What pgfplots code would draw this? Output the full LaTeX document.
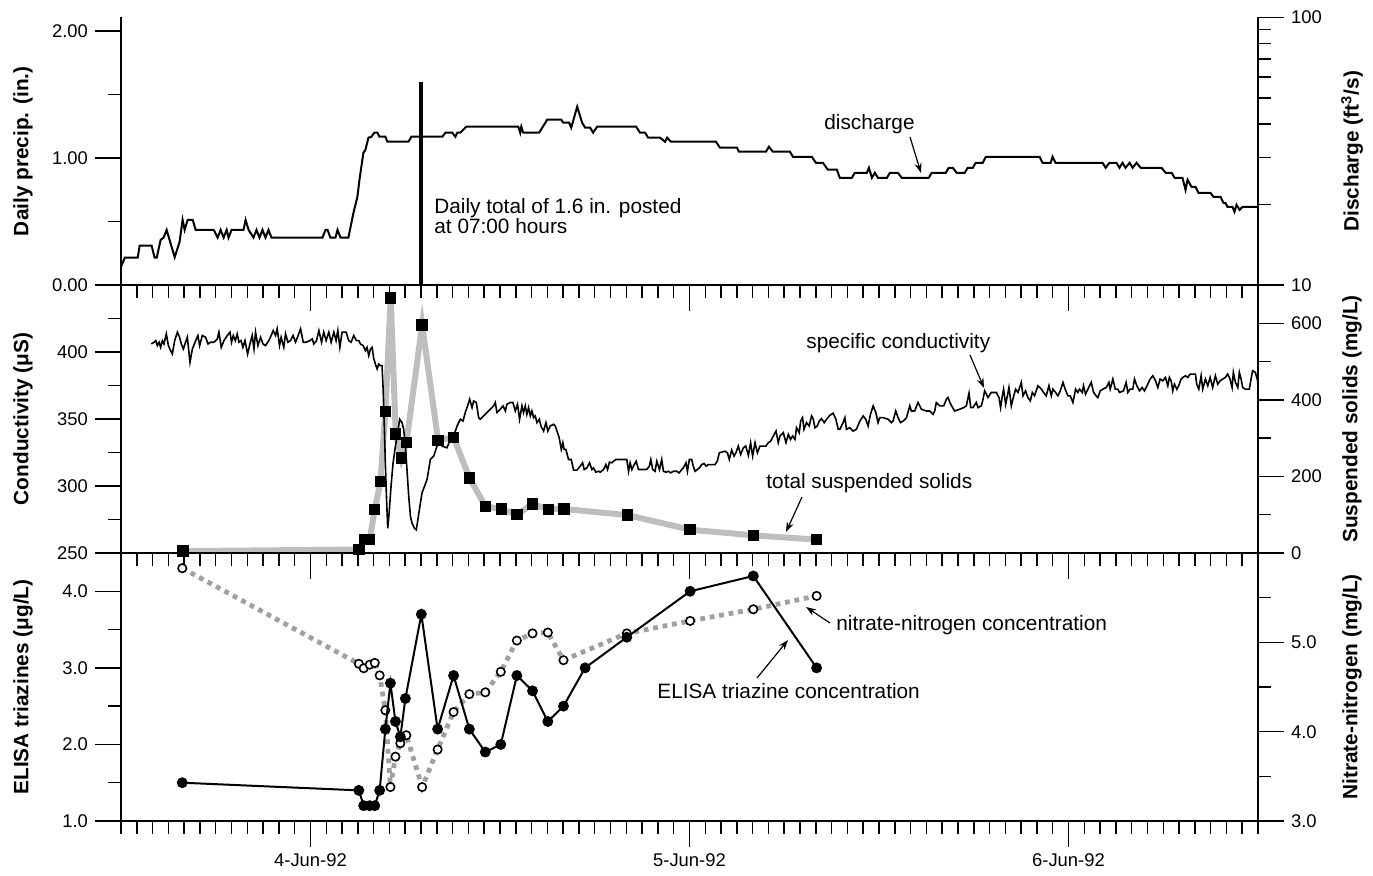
\documentclass[border=0pt]{standalone}
\usepackage{pgfplots}
\pgfplotsset{compat=1.18}
\usepackage{fontspec}
\setmainfont{Liberation Sans}
\usetikzlibrary{arrows.meta}
\definecolor{tssgray}{RGB}{190,190,190}
\definecolor{no3gray}{RGB}{160,160,160}
\pgfplotsset{
  panel/.style={
    scale only axis, width=568.5pt, xmin=12, xmax=84, clip=false,
    axis line style={line width=0.75pt, black},
    tick style={line width=0.75pt, black},
    major tick length=13pt, minor tick length=6.5pt,
    tick align=outside,
    /pgf/number format/assume math mode=true,
    tick label style={font=\fontsize{9.2}{11}\selectfont},
    label style={font=\bfseries\fontsize{10.4}{12}\selectfont},
  },
  leftpanel/.style={panel, axis x line*=bottom, axis y line*=left,
    xtick={24,48,72}, minor xtick={12,13,...,84},
    ylabel style={at={(axis description cs:-0.0862,0.5)}, anchor=center},
  },
  rightpanel/.style={panel, axis x line=none, axis y line*=right,
    ylabel style={at={(axis description cs:1.0827,0.5)}, anchor=center},
  },
}
\newcommand{\annfont}{\fontsize{10.4}{12}\selectfont}
\begin{document}
\begin{tikzpicture}
\useasboundingbox (-60.5pt,-27pt) rectangle (626pt,410.5pt);

% ---------------- Panel 1 : precipitation / discharge ----------------
\begin{axis}[rightpanel, at={(0,268pt)}, anchor=south west, height=133.75pt,
  ymode=log, ymin=10, ymax=100, ytick={10,100}, yticklabels={10,100},
  minor ytick={20,30,40,50,60,70,80,90},
  ylabel={Discharge (ft\textsuperscript{3}/s)}]
\addplot[black, line width=1pt] coordinates {
(12.0,11.68) (12.24,12.65) (13.06,12.65) (13.18,14.03) (13.94,14.03) (14.13,12.65) (14.26,12.65)
(14.51,14.74) (14.70,15.04) (14.89,16.07) (15.40,12.7) (15.71,14.5) (15.90,17.52) (16.03,16.07)
(16.22,17.52) (16.54,17.52) (16.73,16.07) (17.87,16.07) (18.12,15.04) (18.31,16.07) (18.50,15.04)
(18.69,16.07) (18.81,15.04) (19.00,16.07) (19.76,16.07) (19.89,17.52) (20.08,16.07) (20.39,15.04)
(20.58,16.07) (20.77,15.04) (20.96,16.07) (21.15,15.04) (21.34,16.07) (21.53,15.04) (24.76,15.04)
(24.95,16.07) (25.08,16.07) (25.26,15.04) (25.58,15.04) (25.71,16.07) (25.90,15.04) (26.40,15.04)
(26.72,18.61) (26.97,21.36) (27.10,24.73) (27.35,31.22) (27.48,32.03) (27.67,35.53) (27.86,35.84)
(28.04,37.10) (28.24,37.10) (28.36,35.84) (28.74,35.84) (28.87,34.32) (30.20,34.32) (30.39,35.84)
(32.35,35.84) (32.54,37.10) (32.98,37.10) (33.17,35.84) (33.30,37.10) (33.49,37.10) (33.87,39.07)
(37.16,39.07) (37.28,37.10) (37.35,39.07) (37.47,37.10) (38.48,37.10) (38.99,41.50) (39.88,41.50)
(40.00,40.44) (40.38,40.44) (40.51,38.73) (40.89,46.42) (41.20,40.44) (41.39,38.73) (41.71,38.73)
(41.90,37.10) (42.15,39.07) (44.62,39.07) (44.87,37.10) (45.19,37.10) (45.38,35.53) (46.14,35.53)
(46.45,34.32) (46.58,35.53) (46.83,34.32) (49.68,34.32) (49.93,32.6) (51.01,32.6) (51.13,31.49)
(52.84,31.49) (53.03,32.88) (53.28,31.49) (54.36,31.49) (54.55,30.16) (55.75,30.16) (56.00,28.63)
(56.45,28.63) (56.76,26.97) (57.33,26.97) (57.52,25.16) (58.28,25.16) (58.47,26.28) (59.23,26.28)
(59.36,27.43) (59.55,25.16) (59.74,26.28) (59.93,25.16) (60.50,25.16) (60.69,26.28) (61.19,26.28)
(61.44,25.16) (63.15,25.16) (63.34,26.28) (64.23,26.28) (64.42,27.43) (64.67,27.43) (64.92,26.28)
(65.43,26.28) (65.62,27.43) (65.94,27.43) (66.12,28.63) (66.57,28.63) (66.76,30.16) (70.17,30.16)
(70.36,28.63) (70.87,28.63) (70.99,30.16) (71.18,28.63) (74.16,28.63) (74.35,27.43) (74.60,28.63)
(75.04,28.63) (75.23,27.43) (75.42,28.63) (75.61,27.43) (75.87,28.63) (76.06,27.43) (76.31,28.63)
(76.57,27.43) (77.89,27.43) (78.15,26.28) (78.53,26.28) (78.72,25.16) (79.22,25.16) (79.41,22.69)
(79.54,24.73) (79.79,23.28) (80.04,23.28) (80.23,22.11) (80.99,22.11) (81.18,21.36) (81.63,21.36)
(81.81,20.29) (81.94,20.29) (82.07,19.60) (82.38,19.60) (82.51,18.77) (82.64,19.94) (82.83,19.10)
(83.02,19.60) (84.0,19.60)
};
\end{axis}
\begin{axis}[leftpanel, at={(0,268pt)}, anchor=south west, height=133.75pt,
  ymin=0, ymax=2.106, ytick={0,1,2}, minor ytick={0.5,1.5},
  yticklabel style={/pgf/number format/.cd, fixed, fixed zerofill, precision=2},
  xticklabels={,,},
  ylabel={Daily precip. (in.)}]
\addplot[black, line width=2pt] coordinates {(31,0) (31,1.6)};
\end{axis}

% ---------------- Panel 2 : conductivity / suspended solids ----------------
\begin{axis}[rightpanel, at={(0,134pt)}, anchor=south west, height=134pt,
  ymin=0, ymax=700, ytick={0,200,400,600}, minor ytick={100,300,500},
  ylabel={Suspended solids (mg/L)}]
\addplot[tssgray, line width=3pt, mark=square*, mark size=2.6pt,
  mark options={black, fill=black, line width=0.5pt}] coordinates {
(15.92,5) (27.06,9) (27.43,35) (27.75,35) (28.07,114) (28.43,186) (28.74,370) (29.08,666)
(29.40,311) (29.76,248) (30.07,288) (31.07,596) (32.08,294) (33.06,302) (34.07,196) (35.07,122)
(36.08,115) (37.07,100) (38.06,128) (39.07,114) (40.06,115) (44.07,99) (48.04,61) (52.04,46) (56.05,35)
};
\end{axis}
\begin{axis}[leftpanel, at={(0,134pt)}, anchor=south west, height=134pt,
  ymin=250, ymax=450, ytick={250,300,350,400}, minor ytick={275,325,375,425},
  xticklabels={,,},
  ylabel={Conductivity (μS)}]
\addplot[black, line width=0.8pt] coordinates {
(13.92,406.0) (14.09,407.3) (14.20,408.5) (14.30,404.8) (14.41,407.3) (14.51,403.5) (14.62,408.5)
(14.72,406.0) (14.87,413.5) (15.00,404.8) (15.14,401.0) (15.25,398.5) (15.40,408.5) (15.57,414.8)
(15.71,411.0) (15.82,406.0) (15.95,402.3) (16.09,407.3) (16.20,411.0) (16.37,392.3) (16.52,402.3)
(16.73,408.5) (16.87,412.3) (16.98,404.8) (17.15,412.3) (17.36,411.0) (17.51,406.0) (17.67,407.3)
(17.89,407.3) (18.10,409.8) (18.20,414.8) (18.35,403.5) (18.52,408.5) (18.73,412.3) (18.90,414.8)
(19.00,407.3) (19.11,412.3) (19.24,408.5) (19.36,413.5) (19.47,407.3) (19.61,408.5) (19.72,403.5)
(19.85,408.5) (20.02,398.5) (20.14,404.8) (20.31,412.3) (20.42,402.3) (20.52,414.8) (20.67,404.8)
(20.84,411.0) (20.99,406.0) (21.15,404.8) (21.36,408.5) (21.51,412.3) (21.64,416.0) (21.79,412.3)
(21.89,417.3) (22.04,404.8) (22.14,411.0) (22.31,403.5) (22.42,413.5) (22.57,407.3) (22.73,408.5)
(22.90,412.3) (23.05,407.3) (23.22,412.3) (23.37,417.3) (23.54,407.3) (23.73,407.3) (23.96,408.5)
(24.11,409.8) (24.21,406.0) (24.38,408.5) (24.53,416.0) (24.70,407.3) (24.84,414.8) (24.99,408.5)
(25.16,414.8) (25.31,407.3) (25.48,414.8) (25.62,408.5) (25.73,416.0) (25.86,403.5) (26.00,414.8)
(26.26,414.8) (26.42,408.5) (26.57,407.3) (26.74,412.3) (26.91,408.5) (27.06,408.5) (27.16,406.0)
(27.33,404.8) (27.48,401.0) (27.58,403.5) (27.69,397.3) (27.80,402.3) (27.90,403.5) (28.01,394.8)
(28.11,391.0) (28.22,387.3) (28.32,391.0) (28.43,389.8) (28.53,389.8) (28.60,372.3) (28.68,342.3)
(28.74,317.3) (28.81,292.3) (28.89,268.5) (28.98,279.8) (29.10,299.8) (29.23,317.3) (29.38,329.8)
(29.52,339.8) (29.65,349.8) (29.80,347.3) (29.90,342.3) (30.01,329.8) (30.11,312.3) (30.22,292.3)
(30.33,277.3) (30.43,272.3) (30.58,268.5) (30.70,267.3) (31.06,294.8) (31.38,304.8) (31.59,319.8)
(31.80,322.3) (32.01,329.8) (32.12,333.5) (32.33,329.8) (32.64,328.5) (32.86,334.8) (33.07,337.3)
(33.28,344.8) (33.49,349.8) (33.66,348.5) (33.80,354.8) (33.95,359.8) (34.08,364.8) (34.23,358.5)
(34.33,363.5) (34.50,362.3) (34.65,351.0) (34.75,349.8) (34.96,352.3) (35.17,354.8) (35.39,357.3)
(35.60,359.8) (35.70,362.3) (35.81,354.8) (36.02,357.3) (36.19,359.8) (36.34,356.0) (36.44,361.0)
(36.65,362.3) (36.82,362.3) (36.97,356.0) (37.11,361.0) (37.24,349.8) (37.39,359.8) (37.49,354.8)
(37.60,359.8) (37.70,353.5) (37.81,358.5) (37.92,352.3) (38.02,356.0) (38.13,351.0) (38.23,352.3)
(38.34,347.3) (38.49,349.8) (38.59,344.8) (38.76,341.0) (38.91,347.3) (39.03,341.0) (39.18,344.8)
(39.39,346.0) (39.50,344.8) (39.64,339.8) (39.75,336.0) (39.88,327.3) (39.98,332.3) (40.06,327.3)
(40.17,327.3) (40.34,319.8) (40.51,319.8) (40.66,311.8) (40.87,311.8) (41.08,314.8) (41.23,317.3)
(41.33,312.3) (41.50,313.5) (41.67,317.3) (41.82,312.3) (41.92,313.5) (42.07,310.3) (42.24,311.0)
(42.35,310.3) (42.56,312.3) (42.70,316.0) (42.81,312.3) (42.93,317.8) (43.08,317.3) (43.19,318.5)
(43.34,319.8) (44.03,319.8) (44.14,311.0) (44.24,317.3) (44.35,312.3) (44.45,314.8) (44.62,318.5)
(44.77,312.3) (45.08,312.3) (45.29,312.3) (45.46,314.8) (45.55,319.8) (45.67,312.3) (45.82,311.0)
(45.93,318.5) (46.10,312.3) (46.24,319.8) (46.35,311.0) (46.52,310.3) (46.67,311.0) (46.81,309.8)
(46.98,311.0) (47.19,311.0) (47.34,309.8) (47.51,312.3) (47.61,313.5) (47.78,317.3) (47.87,311.0)
(47.99,319.8) (48.14,319.8) (48.24,314.8) (48.35,311.0) (48.50,312.3) (48.63,313.5) (48.77,316.0)
(48.92,316.8) (49.05,314.8) (49.19,316.0) (49.40,316.0) (49.62,316.0) (49.76,318.5) (49.89,324.8)
(50.04,325.3) (50.25,326.0) (50.40,324.8) (50.52,319.8) (50.67,326.8) (50.82,322.3) (50.94,324.8)
(51.09,329.8) (51.24,323.5) (51.41,328.5) (51.56,329.8) (51.73,322.8) (51.87,332.3) (52.00,322.3)
(52.15,332.3) (52.30,324.8) (52.46,329.8) (52.84,329.8) (52.99,332.3) (53.14,333.5) (53.31,337.3)
(53.48,341.0) (53.62,332.3) (53.73,337.3) (53.94,339.8) (54.11,332.3) (54.26,338.5) (54.40,334.8)
(54.53,337.3) (54.68,334.8) (54.78,343.5) (54.95,339.8) (55.04,348.5) (55.16,351.0) (55.25,342.3)
(55.41,347.3) (55.58,344.8) (55.73,352.3) (55.84,349.8) (55.94,343.5) (56.09,344.8) (56.22,348.5)
(56.36,350.3) (56.53,347.3) (56.68,349.8) (56.89,352.8) (57.10,354.3) (57.27,349.8) (57.42,342.3)
(57.52,342.3) (57.73,347.3) (57.84,351.0) (57.94,342.3) (58.15,343.5) (58.36,341.0) (58.57,342.3)
(58.79,348.5) (59.00,352.3) (59.16,349.8) (59.31,344.8) (59.46,353.5) (59.63,359.8) (59.80,354.8)
(59.94,347.3) (60.05,351.0) (60.26,351.0) (60.58,349.8) (60.79,347.3) (60.89,348.5) (61.06,356.0)
(61.21,351.0) (61.36,347.3) (61.53,348.5) (61.74,351.0) (61.95,359.8) (62.05,356.0) (62.26,356.0)
(62.47,362.3) (62.69,357.3) (63.00,356.0) (63.21,356.0) (63.42,353.5) (63.53,356.0) (63.63,362.3)
(63.85,359.8) (64.10,359.8) (64.27,364.8) (64.37,366.0) (64.54,361.0) (64.79,356.0) (65.11,357.3)
(65.36,358.5) (65.53,359.8) (65.70,369.3) (65.81,358.5) (65.95,358.5) (66.16,362.3) (66.27,358.5)
(66.48,359.8) (66.59,364.8) (66.69,371.0) (66.80,368.5) (66.90,366.0) (67.11,369.8) (67.43,369.8)
(67.60,366.0) (67.70,358.5) (67.81,367.3) (67.89,372.3) (68.02,361.0) (68.13,367.3) (68.23,373.5)
(68.38,359.8) (68.48,364.8) (68.65,372.3) (68.80,369.8) (69.01,377.3) (69.12,367.3) (69.28,371.0)
(69.43,366.0) (69.58,363.5) (69.71,369.8) (69.85,367.3) (70.06,374.8) (70.28,372.3) (70.42,369.8)
(70.59,367.3) (70.76,374.8) (70.91,367.3) (71.01,372.3) (71.18,369.8) (71.33,367.3) (71.48,371.0)
(71.65,377.3) (71.79,372.3) (71.96,367.3) (72.11,367.3) (72.28,362.3) (72.45,372.3) (72.59,369.8)
(72.70,372.3) (72.87,369.8) (72.95,374.8) (73.08,368.5) (73.23,372.3) (73.44,377.3) (73.59,369.8)
(73.75,367.3) (73.86,366.0) (74.01,371.0) (74.18,372.3) (74.39,373.5) (74.56,377.3) (74.64,372.3)
(74.81,379.8) (74.96,372.3) (75.12,372.3) (75.23,369.8) (75.48,371.0) (75.65,377.3) (75.76,369.8)
(75.90,372.3) (76.07,372.3) (76.18,379.8) (76.33,374.8) (76.50,371.0) (76.66,373.5) (76.81,371.0)
(77.02,376.0) (77.17,379.8) (77.34,382.3) (77.51,378.5) (77.66,373.5) (77.80,379.8) (77.97,378.5)
(78.14,381.0) (78.29,374.8) (78.39,381.0) (78.50,378.5) (78.60,371.0) (78.71,376.0) (78.86,372.3)
(78.98,374.8) (79.13,379.8) (79.24,381.0) (79.41,382.3) (79.55,381.0) (79.70,383.5) (80.04,383.5)
(80.12,376.0) (80.25,372.3) (80.40,382.3) (80.50,372.3) (80.67,379.8) (80.82,374.8) (80.97,381.0)
(81.13,373.5) (81.30,382.3) (81.45,376.0) (81.60,378.5) (81.77,379.8) (81.93,381.0) (82.08,383.5)
(82.23,379.8) (82.36,373.5) (82.44,384.8) (82.57,377.3) (82.72,373.5) (82.82,384.8) (82.93,379.8)
(83.03,373.5) (83.20,372.3) (83.45,372.3) (83.56,379.8) (83.66,386.0) (83.83,384.8) (83.98,378.5)
(84.0,373.5)
};
\end{axis}

% ---------------- Panel 3 : ELISA triazines / nitrate ----------------
\begin{axis}[rightpanel, at={(0,0)}, anchor=south west, height=134pt,
  ymin=3, ymax=6, ytick={3,4,5}, minor ytick={3.5,4.5,5.5},
  yticklabel style={/pgf/number format/.cd, fixed, fixed zerofill, precision=1},
  ylabel={Nitrate-nitrogen (mg/L)}]
\addplot[no3gray, line width=2.4pt, dash pattern=on 2.4pt off 2.4pt, mark=*, mark size=2.1pt,
  mark options={solid, draw=black, fill=white, line width=0.8pt}] coordinates {
(15.88,5.83) (27.06,4.76) (27.37,4.71) (27.75,4.75) (28.07,4.77) (28.38,4.63) (28.74,4.24)
(29.06,3.38) (29.38,3.72) (29.69,3.87) (30.07,3.96) (31.07,3.38) (32.05,3.80) (33.06,4.22)
(34.06,4.42) (35.07,4.44) (36.05,4.67) (37.07,5.02) (38.06,5.10) (39.03,5.11) (40.02,4.80)
(44.03,5.10) (48.04,5.24) (52.04,5.37) (56.05,5.52)
};
\end{axis}
\begin{axis}[leftpanel, at={(0,0)}, anchor=south west, height=134pt,
  ymin=1, ymax=4.5, ytick={1,2,3,4}, minor ytick={1.5,2.5,3.5},
  yticklabel style={/pgf/number format/.cd, fixed, fixed zerofill, precision=1},
  xticklabels={4-Jun-92,5-Jun-92,6-Jun-92},
  ylabel={ELISA triazines (μg/L)}]
\addplot[black, line width=1pt, mark=*, mark size=2.2pt] coordinates {
(15.88,1.50) (27.06,1.40) (27.37,1.20) (27.75,1.20) (28.07,1.20) (28.38,1.40) (28.74,2.20)
(29.06,2.80) (29.38,2.30) (29.69,2.10) (30.01,2.60) (31.02,3.70) (32.05,2.20) (33.06,2.90)
(34.06,2.20) (35.07,1.90) (36.05,2.00) (37.07,2.90) (38.06,2.70) (39.03,2.30) (40.02,2.50)
(41.39,3.00) (44.03,3.40) (48.04,4.00) (52.04,4.20) (56.05,3.00)
};
\end{axis}

% ---------------- annotations ----------------
\node[anchor=base west, inner sep=0pt, font=\annfont] at (156.5pt,303.5pt) {Daily total of 1.6 in. posted};
\node[anchor=base west, inner sep=0pt, font=\annfont] at (156.5pt,293.5pt) {at 07:00 hours};
\node[anchor=base west, inner sep=0pt, font=\annfont] at (351.5pt,345.5pt) {discharge};
\draw[-{Stealth[length=5pt,width=3.5pt]}, line width=0.6pt] (394.5pt,342pt) -- (400pt,324pt);
\node[anchor=base west, inner sep=0pt, font=\annfont] at (342.5pt,236pt) {specific conductivity};
\draw[-{Stealth[length=5pt,width=3.5pt]}, line width=0.6pt] (424.5pt,233pt) -- (431.5pt,216.5pt);
\node[anchor=base west, inner sep=0pt, font=\annfont] at (322.5pt,166pt) {total suspended solids};
\draw[-{Stealth[length=5pt,width=3.5pt]}, line width=0.6pt] (340.5pt,162pt) -- (332.5pt,144.5pt);
\node[anchor=base west, inner sep=0pt, font=\annfont] at (357.5pt,95.5pt) {nitrate-nitrogen concentration};
\draw[-{Stealth[length=5pt,width=3.5pt]}, line width=0.6pt] (354.5pt,99pt) -- (342.5pt,107pt);
\node[anchor=base west, inner sep=0pt, font=\annfont] at (268pt,61.5pt) {ELISA triazine concentration};
\draw[-{Stealth[length=5pt,width=3.5pt]}, line width=0.6pt] (318pt,71.5pt) -- (333.5pt,90.5pt);
\end{tikzpicture}
\end{document}
